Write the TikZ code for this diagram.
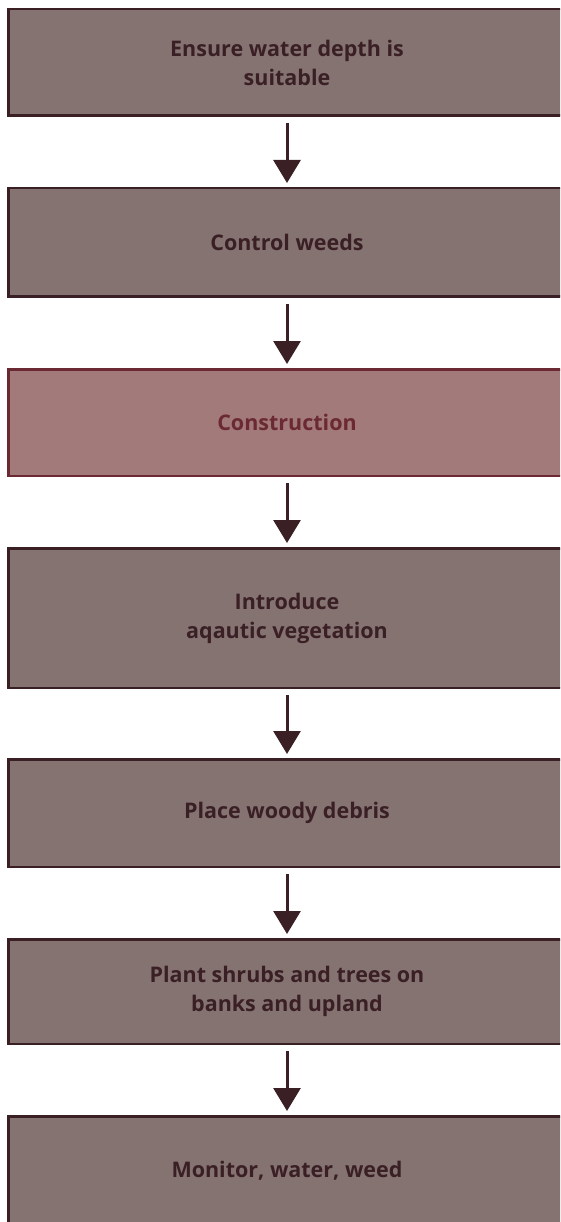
\documentclass[tikz,border=0pt]{standalone}
\usepackage{fontspec}
\setmainfont{Open Sans}
\usetikzlibrary{arrows.meta}
\definecolor{boxfill}{RGB}{133,115,114}
\definecolor{boxline}{RGB}{58,32,37}
\definecolor{hifill}{RGB}{162,122,121}
\definecolor{hiline}{RGB}{107,42,51}
\begin{document}
\begin{tikzpicture}[x=1pt,y=1pt,
  box/.style={draw=boxline, fill=boxfill, line width=2.5pt, minimum width=557.5pt,
    inner sep=0pt, font=\bfseries\fontsize{21.5}{29}\selectfont, text=boxline, align=center},
  hibox/.style={box, draw=hiline, fill=hifill, text=hiline},
  arr/.style={draw=boxline, line width=3pt, -{Triangle[width=27pt,length=23pt]},
    shorten <=6pt, shorten >=4pt}]
\useasboundingbox (0,0) rectangle (560,-1222);
\clip (0,0) rectangle (560,-1222);
\node[box, minimum height=106.5pt] (b1) at (287,-62.5) {Ensure water depth is\\suitable};
\node[box, minimum height=108.5pt] (b2) at (287,-242.5) {Control weeds};
\node[hibox, minimum height=106.5pt] (b3) at (287,-422.5) {Construction};
\node[box, minimum height=139.5pt] (b4) at (287,-618) {Introduce\\aqautic vegetation};
\node[box, minimum height=107.5pt] (b5) at (287,-813) {Place woody debris};
\node[box, minimum height=104.5pt] (b6) at (287,-991.5) {Plant shrubs and trees on\\banks and upland};
\node[box, minimum height=108.5pt] (b7) at (287,-1170.5) {Monitor, water, weed};
\draw[arr] (b1.south) -- (b2.north);
\draw[arr] (b2.south) -- (b3.north);
\draw[arr] (b3.south) -- (b4.north);
\draw[arr] (b4.south) -- (b5.north);
\draw[arr] (b5.south) -- (b6.north);
\draw[arr] (b6.south) -- (b7.north);
\end{tikzpicture}
\end{document}
